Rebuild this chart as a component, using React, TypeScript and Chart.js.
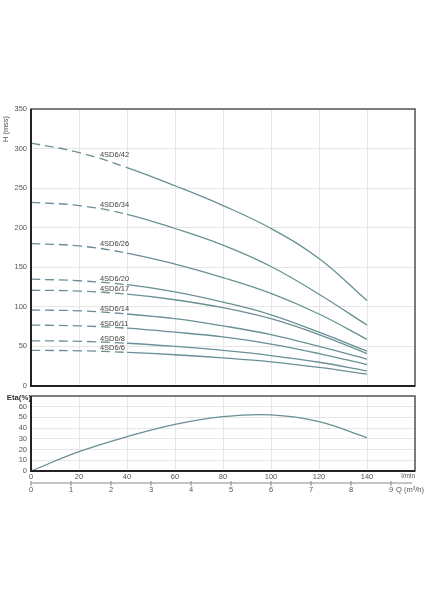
import React, { useEffect, useRef } from "react";
import { Chart, registerables } from "chart.js";

Chart.register(...registerables);

// Flow (l/min)
const Q = [0, 20, 40, 60, 80, 100, 120, 140];
// Head curves H (mss)
const H42 = [307, 295, 276, 253, 228, 199, 161, 108];
const H34 = [232, 228, 217, 199, 178, 151, 116, 77];
const H26 = [180, 177, 168, 154, 137, 117, 91, 59];
const H20 = [135, 133, 128, 119, 106, 90, 68, 44];
const H17 = [121, 120, 116, 109, 99, 85, 65, 41];
const H14 = [96, 95, 91, 85, 76, 65, 50, 34];
const H11 = [77, 76, 73, 68, 62, 53, 41, 27];
const H8 = [57, 56.5, 54, 50, 45, 38.5, 30, 19];
const H6 = [45, 44.5, 42.5, 39.5, 35.5, 30.5, 23.5, 15];
const MODELS = ["4SD6/42", "4SD6/34", "4SD6/26", "4SD6/20", "4SD6/17", "4SD6/14", "4SD6/11", "4SD6/8", "4SD6/6"];
const HEADS = [H42, H34, H26, H20, H17, H14, H11, H8, H6];
// Efficiency (%)
const ETA = [0, 18, 32, 43.5, 50.7, 52.3, 46, 31];
// Secondary axis (m³/h)
const M3H = [0, 1, 2, 3, 4, 5, 6, 7, 8, 9];

const LINE = "#6a8f95";
const GRID = "#e6e6e6";
const TXT = "#555";
const FONT = "'Liberation Sans', Arial, sans-serif";
const DASH_END = 40;
const LABEL_Q = 28.7;

const pts = (ys: number[]) => Q.map((q, i) => ({ x: q, y: ys[i] }));

const frame = {
  id: "frame",
  afterDraw(chart: any) {
    const { ctx, chartArea: a } = chart;
    ctx.save();
    ctx.strokeStyle = "#555";
    ctx.lineWidth = 1.5;
    ctx.strokeRect(a.left, a.top, a.right - a.left, a.bottom - a.top);
    ctx.strokeStyle = "#222";
    ctx.lineWidth = 2;
    ctx.beginPath();
    ctx.moveTo(a.left, a.top);
    ctx.lineTo(a.left, a.bottom);
    ctx.lineTo(a.right, a.bottom);
    ctx.stroke();
    ctx.restore();
  },
};

const interp = (ys: number[], q: number) => {
  for (let i = 0; i < Q.length - 1; i++) {
    if (q >= Q[i] && q <= Q[i + 1]) {
      const t = (q - Q[i]) / (Q[i + 1] - Q[i]);
      return ys[i] + t * (ys[i + 1] - ys[i]);
    }
  }
  return ys[ys.length - 1];
};

const topLabels = {
  id: "topLabels",
  afterDatasetsDraw(chart: any) {
    const { ctx, scales } = chart;
    ctx.save();
    ctx.font = `7.5px ${FONT}`;
    ctx.fillStyle = "#444";
    ctx.textAlign = "left";
    ctx.textBaseline = "middle";
    HEADS.forEach((ys, i) => {
      const x = scales.x.getPixelForValue(LABEL_Q);
      const y = scales.y.getPixelForValue(interp(ys, LABEL_Q + 2)) - (i < 3 ? 5.5 : 3.5);
      ctx.fillText(MODELS[i], x, y);
    });
    // axis title
    ctx.fillStyle = TXT;
    ctx.translate(6, 129);
    ctx.rotate(-Math.PI / 2);
    ctx.textAlign = "center";
    ctx.fillText("H (mss)", 0, 0);
    ctx.restore();
  },
};

const bottomExtras = {
  id: "bottomExtras",
  afterDraw(chart: any) {
    const { ctx, scales, chartArea: a } = chart;
    ctx.save();
    ctx.font = `bold 7.8px ${FONT}`;
    ctx.fillStyle = "#333";
    ctx.textAlign = "right";
    ctx.textBaseline = "middle";
    ctx.fillText("Eta(%)", a.left, a.top + 2);
    ctx.font = `6.5px ${FONT}`;
    ctx.fillStyle = TXT;
    ctx.fillText("l/min", a.right, a.bottom + 5);
    // m³/h axis
    const y0 = a.bottom + 12;
    ctx.strokeStyle = "#888";
    ctx.lineWidth = 1;
    ctx.beginPath();
    ctx.moveTo(a.left, y0);
    ctx.lineTo(a.right - 3, y0);
    ctx.stroke();
    ctx.font = `7.5px ${FONT}`;
    ctx.textAlign = "center";
    ctx.textBaseline = "top";
    M3H.forEach((m) => {
      const x = scales.x.getPixelForValue((m * 1000) / 60);
      ctx.beginPath();
      ctx.moveTo(x, y0 - 2);
      ctx.lineTo(x, y0 + 3);
      ctx.stroke();
      ctx.fillText(String(m), x, y0 + 3);
    });
    const x9 = scales.x.getPixelForValue((9 * 1000) / 60);
    ctx.textAlign = "left";
    ctx.fillText("Q (m³/h)", x9 + 5, y0 + 3);
    ctx.restore();
  },
};

export default function App() {
  const topRef = useRef<HTMLCanvasElement>(null);
  const botRef = useRef<HTMLCanvasElement>(null);

  useEffect(() => {
    Chart.defaults.font.family = FONT;
    const top = new Chart(topRef.current!, {
      type: "line",
      data: {
        datasets: HEADS.map((ys, i) => ({
          label: MODELS[i],
          data: pts(ys),
          borderColor: LINE,
          borderWidth: 1.3,
          pointRadius: 0,
          fill: false,
          tension: 0.4,
          segment: {
            borderDash: (ctx: any) => (ctx.p1.parsed.x <= DASH_END ? [9, 5] : undefined),
          },
        })),
      },
      options: {
        animation: false,
        responsive: false,
        events: [],
        layout: { padding: { left: 0, top: 109, right: 9, bottom: 214 } },
        plugins: { legend: { display: false }, tooltip: { enabled: false } },
        scales: {
          x: {
            type: "linear",
            min: 0,
            max: 160,
            ticks: { stepSize: 20, display: false },
            grid: { color: GRID, drawTicks: false },
            border: { display: false },
            afterFit: (s: any) => {
              s.height = 0;
            },
          },
          y: {
            min: 0,
            max: 350,
            ticks: { stepSize: 50, color: TXT, font: { size: 7.5 }, padding: 4, autoSkip: false },
            grid: { color: GRID, drawTicks: false },
            border: { display: false },
            afterFit: (s: any) => {
              s.width = 31;
            },
          },
        },
      },
      plugins: [frame, topLabels],
    });

    const bot = new Chart(botRef.current!, {
      type: "line",
      data: {
        datasets: [
          {
            label: "Eta",
            data: pts(ETA),
            borderColor: LINE,
            borderWidth: 1.3,
            pointRadius: 0,
            fill: false,
            tension: 0.4,
          },
        ],
      },
      options: {
        animation: false,
        responsive: false,
        events: [],
        layout: { padding: { left: 0, top: 396, right: 9, bottom: 117 } },
        plugins: { legend: { display: false }, tooltip: { enabled: false } },
        scales: {
          x: {
            type: "linear",
            min: 0,
            max: 160,
            ticks: {
              stepSize: 20,
              color: TXT,
              font: { size: 7.5 },
              padding: 1,
              maxRotation: 0,
              autoSkip: false,
              callback: (v: any) => (v === 160 ? "" : String(v)),
            },
            grid: { color: GRID, drawTicks: false },
            border: { display: false },
            afterFit: (s: any) => {
              s.height = 12;
            },
          },
          y: {
            min: 0,
            max: 70,
            ticks: {
              stepSize: 10,
              color: TXT,
              font: { size: 7.5 },
              padding: 4,
              autoSkip: false,
              callback: (v: any) => (v === 70 ? "" : String(v)),
            },
            grid: { color: GRID, drawTicks: false },
            border: { display: false },
            afterFit: (s: any) => {
              s.width = 31;
            },
          },
        },
      },
      plugins: [frame, bottomExtras],
    });

    return () => {
      top.destroy();
      bot.destroy();
    };
  }, []);

  const cs: React.CSSProperties = { position: "absolute", left: 0, top: 0, width: 424, height: 600 };
  return (
    <div style={{ position: "absolute", left: 0, top: 0, width: 424, height: 600, background: "#fff" }}>
      <canvas ref={topRef} width={424} height={600} style={cs} />
      <canvas ref={botRef} width={424} height={600} style={cs} />
    </div>
  );
}
